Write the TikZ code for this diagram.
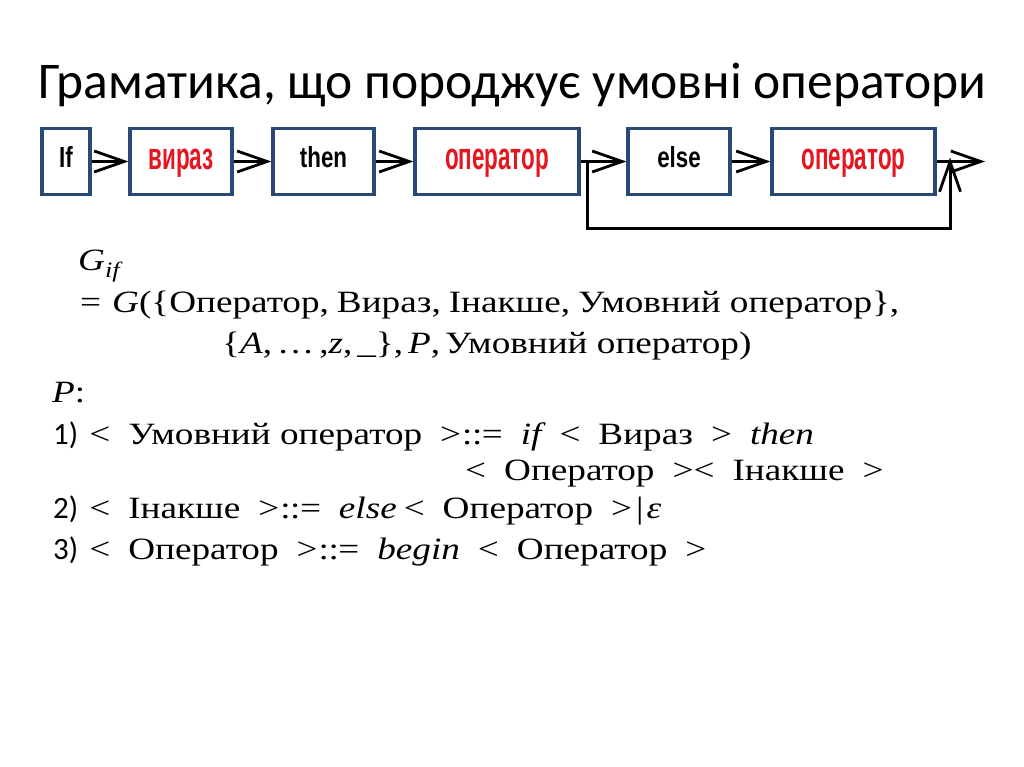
\documentclass[tikz,border=0pt]{standalone}
\usepackage{fontspec}
\setmainfont{Liberation Serif}
\newfontfamily\mathtext[FakeStretch=1.2]{Liberation Serif}
\newfontfamily\titlefont{Carlito}
\newfontfamily\boxfont[FakeStretch=0.77]{Liberation Sans}
\newfontfamily\redfont[FakeStretch=0.59]{Liberation Sans}
\newfontfamily\numfont{Carlito}
\usetikzlibrary{arrows.meta}
\definecolor{boxblue}{RGB}{42,72,118}
\definecolor{boxred}{RGB}{228,22,32}
\newcommand\mi[1]{{\itshape #1}}
\newcommand\rs{\hspace{18pt}}
\newcommand\ns{\hspace{11pt}}
\newcommand\cs{\hspace{8pt}}
\newcommand\defsym{\kern1pt:\kern-0.5pt:\kern-0.5pt=}
\tikzset{
  stepbox/.style={draw=boxblue, line width=3.2pt, fill=white, minimum height=66pt, inner sep=0pt,
                  font=\boxfont\bfseries\fontsize{29}{29}\selectfont, text height=19pt, text depth=6pt},
  redbox/.style={stepbox, text=boxred, font=\redfont\bfseries\fontsize{38}{38}\selectfont,
                 text height=23pt, text depth=6pt},
  conn/.style={line width=3pt, -{Straight Barb[length=30pt,width=21pt,line width=2.8pt]}},
  txt/.style={anchor=base west, inner sep=0pt, font=\mathtext\fontsize{31}{31}\selectfont},
  titletxt/.style={anchor=base west, inner sep=0pt, font=\titlefont\fontsize{51.5}{51.5}\selectfont},
}
\begin{document}
\begin{tikzpicture}[x=1pt,y=-1pt]
\useasboundingbox[fill=white] (0,0) rectangle (1024,767);
% title
\node[titletxt] (title) at (38,99) {Граматика, що породжує умовні оператори};
% boxes
\node[stepbox, minimum width=48pt]  (bif)   at (66,161.5)  {If};
\node[redbox, minimum width=102pt] (bvir) at (181,161.5) {вираз};
\node[stepbox, minimum width=101pt] (bthen) at (323.5,161.5) {then};
\node[redbox, minimum width=164pt] (bop1) at (497,161.5) {оператор};
\node[stepbox, minimum width=102pt] (belse) at (679,161.5) {else};
\node[redbox, minimum width=163pt] (bop2) at (853.5,161.5) {оператор};
\coordinate (split) at (587,161.5);
\coordinate (lowL) at (587,229);
\coordinate (lowR) at (950,229);
\coordinate (join) at (950,161.5);
\coordinate (endpt) at (985,161.5);
% connectors
\draw[conn] (bif.east) -- (bvir.west);
\draw[conn] (bvir.east) -- (bthen.west);
\draw[conn] (bthen.east) -- (bop1.west);
\draw[conn] (bop1.east) -- (belse.west);
\draw[conn] (belse.east) -- (bop2.west);
\draw[conn] (bop2.east) -- (endpt);
\draw[conn, line join=miter] (split) -- (lowL) -- (lowR) -- ([yshift=4pt]join);
% grammar text
\node[txt] (l0) at (78,270) {\mi{G}\raisebox{-7pt}{\fontsize{22}{22}\selectfont\mi{if}}};
\node[txt] (l1) at (80,312) {=\ns\mi{G}(\{Оператор,\cs Вираз,\cs Інакше,\cs Умовний оператор\},};
\node[txt] (l2) at (222,353) {\{\mi{A},\hspace{5pt}…\hspace{5pt},\mi{z},\hspace{5pt}\_\},\hspace{5pt}\mi{P},\hspace{5pt}Умовний оператор)};
\node[txt] (l3) at (52,402) {\mi{P}:};
\node[txt] (l4) at (53,444) {{\numfont 1)}\ns<\rs Умовний оператор\rs>\defsym\rs\mi{if}\rs<\rs Вираз\rs>\rs\mi{then}};
\node[txt] (l5) at (465,480) {<\rs Оператор\rs><\rs Інакше\rs>};
\node[txt] (l6) at (53,518) {{\numfont 2)}\ns<\rs Інакше\rs>\defsym\rs\mi{else}\hspace{7pt}<\rs Оператор\rs>\hspace{4pt}|\hspace{3pt}\mi{ε}};
\node[txt] (l7) at (53,559) {{\numfont 3)}\ns<\rs Оператор\rs>\defsym\rs\mi{begin}\rs<\rs Оператор\rs>};
\end{tikzpicture}
\end{document}
